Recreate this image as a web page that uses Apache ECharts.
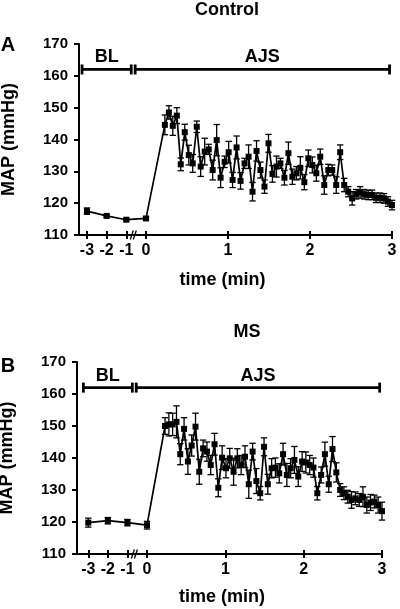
<!DOCTYPE html>
<html><head><meta charset="utf-8">
<script src="https://cdn.jsdelivr.net/npm/echarts@6/dist/echarts.min.js"></script>
<style>html,body{margin:0;padding:0;background:#fff}#c{width:400px;height:609px}</style>
</head><body><div id="c"></div>
<script>
// ---- data ----
const blTimes = [-3, -2, -1, 0];
const ajsTimes = [0.230,0.279,0.327,0.376,0.424,0.473,0.522,0.570,0.619,0.667,0.716,0.765,0.813,0.862,0.910,0.959,1.008,1.056,1.105,1.153,1.202,1.251,1.299,1.348,1.396,1.445,1.494,1.542,1.591,1.639,1.688,1.737,1.785,1.834,1.882,1.931,1.980,2.028,2.077,2.125,2.174,2.223,2.271,2.320,2.368,2.417,2.466,2.514,2.563,2.611,2.660,2.709,2.757,2.806,2.854,2.903,2.951,3.000];

const ctrlBLMean = [117.5, 116.0, 114.8, 115.2];
const ctrlBLSem  = [1.0, 0.4, 0.4, 0.5];
const ctrlMean = [144.6,148.5,144.3,147.5,132.2,142.3,135.1,132.5,144.0,131.5,136.2,136.9,130.4,139.8,128.0,133.0,136.0,127.3,137.5,127.0,132.5,134.6,123.6,136.4,130.4,125.2,138.8,129.2,131.5,132.5,128.0,135.7,128.3,129.4,131.1,126.6,134.1,132.0,129.4,134.6,125.7,130.4,130.4,125.7,136.0,125.7,123.6,121.5,122.8,123.4,122.8,122.6,122.6,121.7,121.7,121.5,120.5,119.4];
const ctrlSem  = [3.1,2.1,3.0,2.5,2.0,2.5,3.1,2.8,1.8,3.1,4.2,1.6,3.1,4.9,3.1,1.8,3.4,2.4,3.6,2.6,1.6,3.7,2.9,3.2,2.5,2.1,2.8,2.6,3.3,1.6,2.3,3.5,2.4,2.1,3.5,2.4,2.6,2.5,2.5,2.4,2.9,1.8,1.6,2.6,2.3,2.1,1.6,2.1,1.5,1.8,1.5,1.5,1.5,1.5,1.5,1.5,1.5,1.5];

const msBLMean = [119.8, 120.4, 119.8, 119.0];
const msBLSem  = [1.4, 1.0, 1.0, 1.2];
const msMean = [150.0,150.5,150.5,151.3,141.2,149.1,138.9,143.9,149.8,135.7,143.0,142.0,137.8,144.3,130.7,140.1,136.8,139.9,135.7,139.9,137.8,140.4,131.8,142.0,132.8,129.0,143.5,131.8,136.8,137.0,135.2,141.2,134.7,136.8,139.4,134.2,138.9,138.6,137.8,137.0,129.0,134.7,141.2,131.8,142.8,135.5,130.0,129.0,127.9,126.9,127.4,126.9,127.9,125.3,126.1,126.4,125.3,123.4];
const msSem  = [2.6,3.6,3.5,5.0,3.3,3.5,4.0,3.3,4.2,3.9,2.6,3.0,3.0,3.4,2.8,3.7,3.0,3.1,4.2,3.0,3.0,3.4,4.4,2.6,3.9,2.1,2.8,3.1,3.0,3.0,3.0,3.4,3.6,3.0,4.2,3.1,3.1,3.3,3.0,3.0,2.1,2.5,3.75,2.5,3.9,3.0,2.0,2.0,2.0,2.6,2.0,2.0,3.1,2.5,2.5,2.0,2.5,2.8];

const xTickLabels = [-3, -2, -1, 0, 1, 2, 3];
const yMin = 110, yMax = 170, yStep = 10;
const periodNames  = ['BL', 'AJS'];
const periodStarts = [-3.25, -0.55];
const periodEnds   = [-0.75, 2.97];
const periodLevel  = 162;
const breakTime    = -0.62;
const panelTitles  = ['Control', 'MS'];
const panelLetters = ['A', 'B'];

// ---- layout / style ----
const FONT = 'Liberation Sans, Arial, Helvetica, sans-serif';
const panels = [
  { k: 0.24, xMin: -0.817, grid: { left: 79, top: 44, width: 313, height: 191 },
    blMean: ctrlBLMean, blSem: ctrlBLSem, mean: ctrlMean, sem: ctrlSem,
    titleXY: [227, 10], letterXY: [8, 45], namePad: 26, nameGap: 36 },
  { k: 0.25, xMin: -0.894, grid: { left: 77, top: 362, width: 305, height: 192 },
    blMean: msBLMean, blSem: msBLSem, mean: msMean, sem: msSem,
    titleXY: [247, 332], letterXY: [8, 366], namePad: 15, nameGap: 34 }
];

function toAxis(t, k) { return t < 0 ? t * k : t; }

const chart = echarts.init(document.getElementById('c'), null, { renderer: 'canvas' });

const grids = [], xAxes = [], yAxes = [], series = [], graphics = [];

panels.forEach((p, i) => {
  grids.push(Object.assign({ containLabel: false, outerBoundsMode: 'none' }, p.grid));
  const tickVals = xTickLabels.map(t => toAxis(t, p.k));
  const fmt = v => {
    let best = 0;
    tickVals.forEach((tv, j) => { if (Math.abs(tv - v) < Math.abs(tickVals[best] - v)) best = j; });
    return String(xTickLabels[best]);
  };
  xAxes.push({
    type: 'value', gridIndex: i, min: p.xMin, max: 3,
    axisLine: { show: true, onZero: false, lineStyle: { color: '#000', width: 2 } },
    axisTick: { show: true, inside: false, length: 4, lineStyle: { color: '#000', width: 2 }, customValues: tickVals },
    axisLabel: { show: true, customValues: tickVals, formatter: fmt, color: '#000', fontFamily: FONT, fontWeight: 'bold', fontSize: 16, margin: 8 },
    splitLine: { show: false },
    name: 'time (min)', nameLocation: 'middle', nameGap: p.nameGap,
    nameTextStyle: { color: '#000', fontFamily: FONT, fontWeight: 'bold', fontSize: 18, padding: [0, p.namePad, 0, 0] }
  });
  xAxes.push({
    type: 'value', gridIndex: i, min: p.xMin, max: 3, position: 'bottom',
    axisLine: { show: false, onZero: false },
    axisTick: { show: true, inside: true, length: 4, lineStyle: { color: '#000', width: 2 }, customValues: tickVals },
    axisLabel: { show: false }, splitLine: { show: false }
  });
  yAxes.push({
    type: 'value', gridIndex: i, min: yMin, max: yMax, interval: yStep, position: 'left',
    axisLine: { show: true, onZero: false, lineStyle: { color: '#000', width: 2 } },
    axisTick: { show: true, length: 5, lineStyle: { color: '#000', width: 2 } },
    axisLabel: { color: '#000', fontFamily: FONT, fontWeight: 'bold', fontSize: 15, margin: 11 },
    splitLine: { show: false },
    name: 'MAP (mmHg)', nameLocation: 'middle', nameGap: 61,
    nameTextStyle: { color: '#000', fontFamily: FONT, fontWeight: 'bold', fontSize: 18 }
  });
  const xi = i * 2, yi = i;

  const allT = blTimes.concat(ajsTimes);
  const allM = p.blMean.concat(p.mean);
  const allE = p.blSem.concat(p.sem);
  const pts = allT.map((t, j) => [toAxis(t, p.k), allM[j], allE[j]]);

  series.push({
    type: 'custom', xAxisIndex: xi, yAxisIndex: yi, z: 1, silent: true,
    data: pts,
    renderItem: (params, api) => {
      const x = api.value(0), m = api.value(1), e = api.value(2);
      const hi = api.coord([x, m + e]), lo = api.coord([x, m - e]);
      const w = 3.2;
      const st = { stroke: '#000', lineWidth: 1.3 };
      return { type: 'group', children: [
        { type: 'line', shape: { x1: hi[0], y1: hi[1], x2: lo[0], y2: lo[1] }, style: st },
        { type: 'line', shape: { x1: hi[0] - w, y1: hi[1], x2: hi[0] + w, y2: hi[1] }, style: st },
        { type: 'line', shape: { x1: lo[0] - w, y1: lo[1], x2: lo[0] + w, y2: lo[1] }, style: st }
      ]};
    }
  });
  series.push({
    type: 'line', xAxisIndex: xi, yAxisIndex: yi, z: 3, silent: true,
    data: pts.map(d => [d[0], d[1]]),
    symbol: 'rect', symbolSize: 6, showSymbol: true,
    itemStyle: { color: '#000' },
    lineStyle: { color: '#000', width: 1.7 },
    animation: false
  });
  series.push({
    type: 'custom', xAxisIndex: xi, yAxisIndex: yi, z: 2, silent: true,
    data: periodNames.map((n, j) => [toAxis(periodStarts[j], p.k), toAxis(periodEnds[j], p.k), periodLevel, n]),
    renderItem: (params, api) => {
      const a = api.coord([api.value(0), api.value(2)]);
      const b = api.coord([api.value(1), api.value(2)]);
      const st = { stroke: '#000', lineWidth: 2.8 };
      const h = 5;
      return { type: 'group', children: [
        { type: 'line', shape: { x1: a[0], y1: a[1], x2: b[0], y2: b[1] }, style: st },
        { type: 'line', shape: { x1: a[0], y1: a[1] - h, x2: a[0], y2: a[1] + h }, style: st },
        { type: 'line', shape: { x1: b[0], y1: b[1] - h, x2: b[0], y2: b[1] + h }, style: st },
        { type: 'text', x: (a[0] + b[0]) / 2, y: a[1] - 12,
          style: { text: periodNames[params.dataIndex], fill: '#000', font: 'bold 18px ' + FONT, align: 'center', verticalAlign: 'middle' } }
      ]};
    }
  });
  series.push({
    type: 'custom', xAxisIndex: xi, yAxisIndex: yi, z: 4, silent: true,
    data: [[toAxis(breakTime, p.k), yMin]],
    renderItem: (params, api) => {
      const c = api.coord([api.value(0), api.value(1)]);
      const st = { stroke: '#000', lineWidth: 1.3 };
      return { type: 'group', children: [
        { type: 'line', shape: { x1: c[0] - 3.5, y1: c[1] + 4.5, x2: c[0] - 0.5, y2: c[1] - 4.5 }, style: st },
        { type: 'line', shape: { x1: c[0] - 0.5, y1: c[1] + 4.5, x2: c[0] + 2.5, y2: c[1] - 4.5 }, style: st }
      ]};
    }
  });

  graphics.push({ type: 'text', x: p.titleXY[0], y: p.titleXY[1],
    style: { text: panelTitles[i], fill: '#000', font: 'bold 18px ' + FONT, align: 'center', verticalAlign: 'middle' } });
  graphics.push({ type: 'text', x: p.letterXY[0], y: p.letterXY[1],
    style: { text: panelLetters[i], fill: '#000', font: 'bold 20px ' + FONT, align: 'center', verticalAlign: 'middle' } });
});

chart.setOption({
  animation: false,
  backgroundColor: '#fff',
  grid: grids, xAxis: xAxes, yAxis: yAxes, series: series, graphic: graphics
});
</script></body></html>
